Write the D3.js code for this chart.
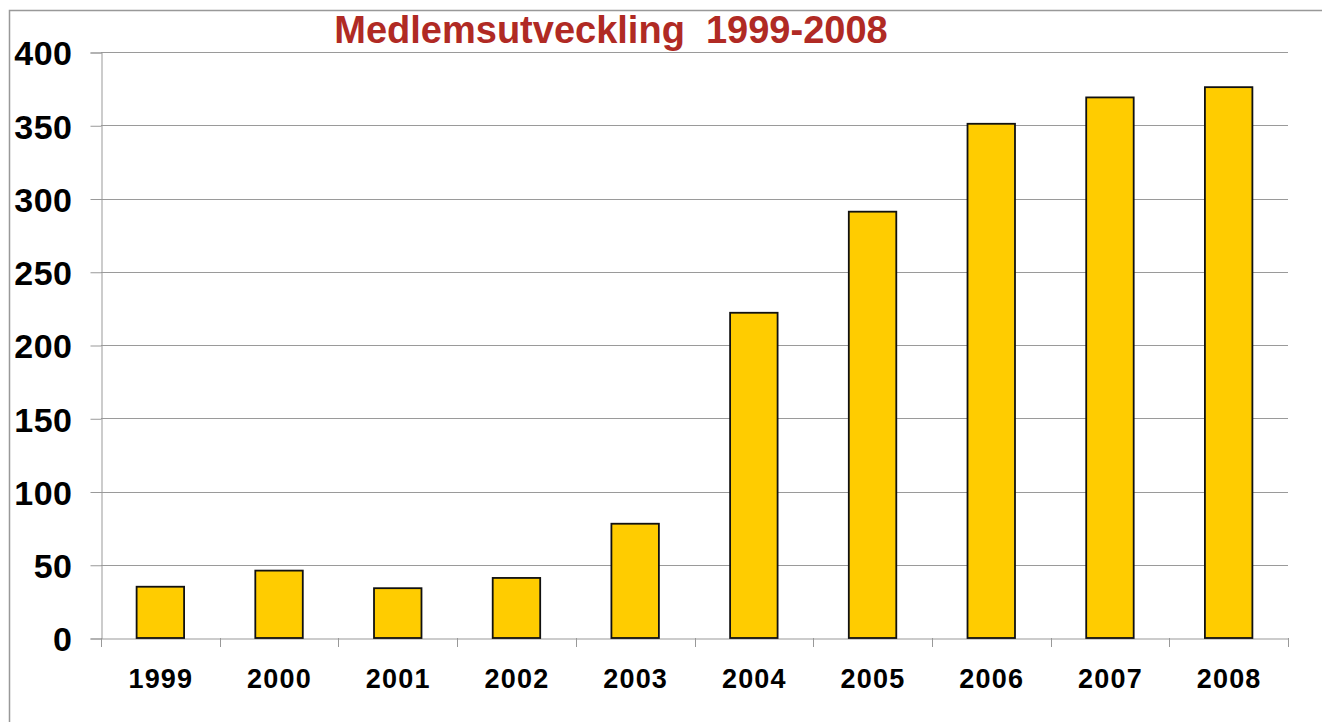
<!DOCTYPE html>
<html>
<head>
<meta charset="utf-8">
<script src="https://cdn.jsdelivr.net/npm/d3@7"></script>
<style>
  body { margin: 0; background: #FFFFFF; }
  text { font-family: "Liberation Sans", Arial, sans-serif; font-weight: bold; }
</style>
</head>
<body>
<svg id="plot"></svg>
<script>
// chart data
const years = ["1999", "2000", "2001", "2002", "2003", "2004", "2005", "2006", "2007", "2008"];
const members = [35, 46, 34, 41, 78, 222, 291, 351, 369, 376];
const yTicks = [0, 50, 100, 150, 200, 250, 300, 350, 400];
const title = "Medlemsutveckling\u00a0\u00a01999-2008";

let width = 1322;
let height = 722;
let margin = { top: 52, bottom: 84, left: 101, right: 34 };

let svg = d3.select('#plot')
    .attr('width', width)
    .attr('height', height)
    .style('background', '#FFFFFF');

// outer frame
svg.append('path')
    .attr('d', `M9.5,${height} V10.5 H${width}`)
    .attr('fill', 'none')
    .attr('stroke', '#999999')
    .attr('stroke-width', 1.5);

let xScale = d3.scaleBand()
    .domain(years)
    .range([margin.left, width - margin.right])
    .paddingInner(0.6)
    .paddingOuter(0.3);

let yScale = d3.scaleLinear()
    .domain([0, 400])
    .range([height - margin.bottom, margin.top]);

// gridlines
svg.append('g')
    .selectAll('line')
    .data(yTicks.filter(d => d > 0))
    .enter()
    .append('line')
    .attr('x1', margin.left)
    .attr('x2', width - margin.right)
    .attr('y1', d => Math.round(yScale(d)) + 0.5)
    .attr('y2', d => Math.round(yScale(d)) + 0.5)
    .attr('stroke', '#9a9a9a')
    .attr('stroke-width', 1.2);

// y axis
let yAxis = svg.append('g')
    .attr('transform', `translate(${margin.left + 0.5}, 0.5)`)
    .call(d3.axisLeft(yScale).tickValues(yTicks).tickSize(11).tickPadding(18));
yAxis.selectAll('line, path').attr('stroke', '#999999');
yAxis.selectAll('text')
    .style('font-size', '34px')
    .style('letter-spacing', '0.5px')
    .attr('fill', '#000000')
    .attr('dy', '0.36em');

// x axis
let xAxis = svg.append('g')
    .attr('transform', `translate(0.5, ${Math.round(height - margin.bottom) + 0.5})`)
    .call(d3.axisBottom(xScale).tickSize(0).tickPadding(30).tickSizeOuter(0));
xAxis.select('.domain').attr('stroke', '#999999');
xAxis.selectAll('text')
    .style('font-size', '27px')
    .style('letter-spacing', '1.2px')
    .attr('fill', '#000000');

// category separators
svg.append('g')
    .selectAll('line')
    .data(d3.range(years.length + 1))
    .enter()
    .append('line')
    .attr('x1', i => Math.round(margin.left + i * xScale.step()) + 0.5)
    .attr('x2', i => Math.round(margin.left + i * xScale.step()) + 0.5)
    .attr('y1', yScale(0))
    .attr('y2', yScale(0) + 9)
    .attr('stroke', '#999999');

// bars
svg.selectAll('rect.bar')
    .data(years)
    .enter()
    .append('rect')
    .attr('class', 'bar')
    .attr('x', d => xScale(d))
    .attr('y', (d, i) => yScale(members[i]))
    .attr('width', xScale.bandwidth())
    .attr('height', (d, i) => yScale(0) - yScale(members[i]))
    .attr('fill', '#FFCC00')
    .attr('stroke', '#111111')
    .attr('stroke-width', 1.8);

// title
svg.append('text')
    .attr('x', 611)
    .attr('y', 43)
    .attr('text-anchor', 'middle')
    .style('font-size', '38px')
    .attr('fill', '#B02A24')
    .text(title);
</script>
</body>
</html>
